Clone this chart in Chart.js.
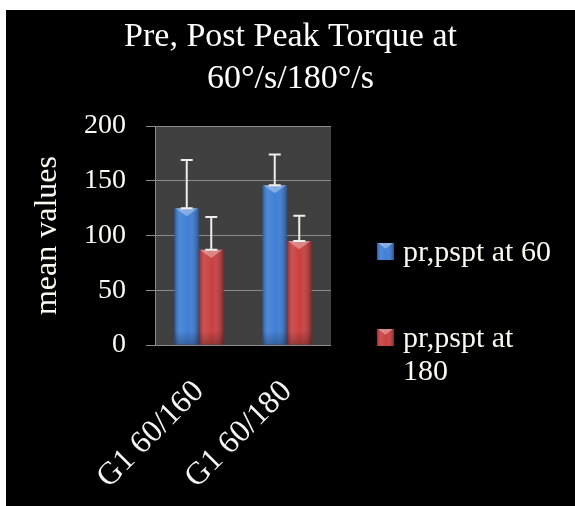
<!DOCTYPE html>
<html>
<head>
<meta charset="utf-8">
<script src="https://cdn.jsdelivr.net/npm/chart.js@4/dist/chart.umd.min.js"></script>
<style>
    html, body { margin: 0; padding: 0; background: #fff; }
    #torque { position: absolute; left: 6px; top: 10px; background: #000; }
</style>
</head>
<body>
<canvas id="torque" width="569" height="496"></canvas>
<script>
const categories = ['G1 60/160', 'G1 60/180'];
const seriesLabels = ['pr,pspt at 60', 'pr,pspt at 180'];
const peak60 = [125, 146];
const peak60Err = [44, 28];
const peak180 = [87, 95];
const peak180Err = [30, 23];
const yTicks = [0, 50, 100, 150, 200];
const titleLines = ['Pre, Post Peak Torque at', '60\u00b0/s/180\u00b0/s'];

const serif = "'Liberation Serif', 'Times New Roman', serif";
const blue = '#3b7dd6';
const red = '#c93c3c';

// dark plot background behind the bars
const plotBackground = {
    id: 'plotBackground',
    beforeDraw(chart) {
        const { ctx, chartArea: a } = chart;
        ctx.save();
        ctx.fillStyle = '#404040';
        ctx.fillRect(a.left, a.top, a.right - a.left, a.bottom - a.top);
        ctx.restore();
    }
};

// title centred across the whole canvas, not just the plot
const wideTitle = {
    id: 'wideTitle',
    afterDraw(chart) {
        const { ctx, width } = chart;
        ctx.save();
        ctx.font = '34px ' + serif;
        ctx.fillStyle = '#ffffff';
        ctx.textAlign = 'center';
        ctx.textBaseline = 'alphabetic';
        titleLines.forEach((ln, i) => ctx.fillText(ln, width / 2, 36 + i * 42));
        ctx.restore();
    }
};

function shadeBox(ctx, left, top, width, height) {
    const g = ctx.createLinearGradient(left, 0, left + width, 0);
    g.addColorStop(0, 'rgba(0,0,0,0.30)');
    g.addColorStop(0.25, 'rgba(255,255,255,0.10)');
    g.addColorStop(0.55, 'rgba(255,255,255,0.02)');
    g.addColorStop(1, 'rgba(0,0,0,0.35)');
    ctx.fillStyle = g;
    ctx.fillRect(left, top, width, height);
    // bevel on the top edge
    ctx.fillStyle = 'rgba(255,255,255,0.35)';
    ctx.beginPath();
    ctx.moveTo(left + 1, top);
    ctx.lineTo(left + width - 1, top);
    ctx.lineTo(left + width / 2, top + Math.min(width / 3, height / 2));
    ctx.closePath();
    ctx.fill();
}

// bar shading plus the white error bars
const barExtras = {
    id: 'barExtras',
    afterDatasetsDraw(chart) {
        const { ctx } = chart;
        const y = chart.scales.y;
        ctx.save();
        chart.data.datasets.forEach((ds, i) => {
            const meta = chart.getDatasetMeta(i);
            meta.data.forEach((bar) => {
                const left = bar.x - bar.width / 2;
                shadeBox(ctx, left, bar.y, bar.width, bar.base - bar.y);
                const base = ctx.createLinearGradient(0, bar.base - 14, 0, bar.base);
                base.addColorStop(0, 'rgba(0,0,0,0)');
                base.addColorStop(1, 'rgba(0,0,0,0.25)');
                ctx.fillStyle = base;
                ctx.fillRect(left, bar.base - 14, bar.width, 14);
            });
        });
        chart.data.datasets.forEach((ds, i) => {
            const meta = chart.getDatasetMeta(i);
            meta.data.forEach((bar, j) => {
                const v = ds.data[j];
                const top = y.getPixelForValue(v + ds.errors[j]);
                const bottom = y.getPixelForValue(v);
                ctx.strokeStyle = '#eeeeee';
                ctx.lineWidth = 2;
                ctx.beginPath();
                ctx.moveTo(bar.x, top);
                ctx.lineTo(bar.x, bottom);
                ctx.moveTo(bar.x - 6, top);
                ctx.lineTo(bar.x + 6, top);
                ctx.moveTo(bar.x - 6, bottom);
                ctx.lineTo(bar.x + 6, bottom);
                ctx.stroke();
            });
        });
        ctx.restore();
    }
};

function wrapText(ctx, text, maxWidth) {
    const words = text.split(' ');
    const lines = [];
    let line = '';
    for (const w of words) {
        const test = line ? line + ' ' + w : w;
        if (line && ctx.measureText(test).width > maxWidth) {
            lines.push(line);
            line = w;
        } else {
            line = test;
        }
    }
    lines.push(line);
    return lines;
}

// legend on the right, with wrapping labels
const sideLegend = {
    id: 'sideLegend',
    afterDraw(chart) {
        const { ctx } = chart;
        const x = 371, textX = 397;
        const rows = [241, 327];
        ctx.save();
        ctx.font = '30px ' + serif;
        ctx.textBaseline = 'middle';
        chart.data.datasets.forEach((ds, i) => {
            const top = rows[i];
            ctx.fillStyle = ds.backgroundColor;
            ctx.fillRect(x, top - 8, 17, 17);
            shadeBox(ctx, x, top - 8, 17, 17);
            ctx.fillStyle = '#fbfbf2';
            const lines = wrapText(ctx, ds.label, 158);
            lines.forEach((ln, k) => ctx.fillText(ln, textX, top + 2 + k * 33));
        });
        ctx.restore();
    }
};

new Chart(document.getElementById('torque'), {
    type: 'bar',
    data: {
        labels: categories,
        datasets: [
            { label: seriesLabels[0], data: peak60, errors: peak60Err, backgroundColor: blue },
            { label: seriesLabels[1], data: peak180, errors: peak180Err, backgroundColor: red }
        ]
    },
    options: {
        responsive: false,
        animation: false,
        layout: { padding: { left: 22, right: 244, top: 116, bottom: 0 } },
        datasets: {
            bar: { categoryPercentage: 0.557, barPercentage: 1 }
        },
        plugins: {
            legend: { display: false },
            tooltip: { enabled: false },
            title: { display: false }
        },
        scales: {
            x: {
                grid: { display: false },
                border: { display: false },
                ticks: {
                    color: '#f4f4f4',
                    font: { family: serif, size: 32 },
                    minRotation: 45,
                    maxRotation: 45,
                    padding: 20
                },
                afterFit(scale) { scale.height = 161; }
            },
            y: {
                min: 0,
                max: 200,
                afterBuildTicks(scale) { scale.ticks = yTicks.map(v => ({ value: v })); },
                grid: { color: '#8a8a8a', lineWidth: 1, tickLength: 9 },
                border: { color: '#8a8a8a' },
                ticks: {
                    color: '#fbfbf2',
                    font: { family: serif, size: 28 },
                    padding: 20
                },
                title: {
                    display: true,
                    text: 'mean values',
                    color: '#fbfbf2',
                    font: { family: serif, size: 32 },
                    padding: 0
                },
                afterFit(scale) { scale.width = 127; }
            }
        }
    },
    plugins: [plotBackground, barExtras, sideLegend, wideTitle]
});
</script>
</body>
</html>
